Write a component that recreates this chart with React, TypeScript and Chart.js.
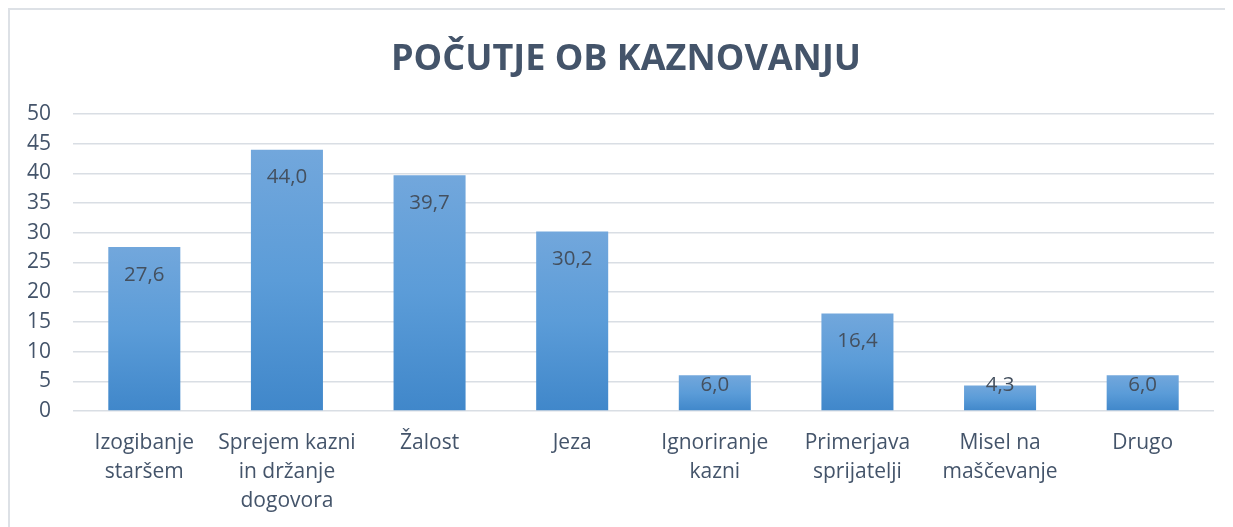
import React, { useEffect, useRef } from "react";
import { Chart, registerables } from "chart.js";

Chart.register(...registerables);

const TITLE = "POČUTJE OB KAZNOVANJU";
const categories: string[][] = [
  ["Izogibanje", "staršem"],
  ["Sprejem kazni", "in držanje", "dogovora"],
  ["Žalost"],
  ["Jeza"],
  ["Ignoriranje", "kazni"],
  ["Primerjava", "sprijatelji"],
  ["Misel na", "maščevanje"],
  ["Drugo"],
];
const values: number[] = [27.6, 44.0, 39.7, 30.2, 6.0, 16.4, 4.3, 6.0];
const yMin = 0;
const yMax = 50;
const yStep = 5;

const TEXT = "#44546A";
const FONT = "'Open Sans', 'Noto Sans', sans-serif";

export default function App() {
  const ref = useRef<HTMLCanvasElement | null>(null);

  useEffect(() => {
    document.documentElement.style.overflow = "hidden";
    document.body.style.overflow = "hidden";
    const canvas = ref.current;
    if (!canvas) return;

    const titlePlugin = {
      id: "customTitle",
      afterDraw(chart: any) {
        const ctx = chart.ctx;
        ctx.save();
        ctx.font = `bold 36px ${FONT}`;
        ctx.fillStyle = TEXT;
        ctx.textAlign = "center";
        ctx.textBaseline = "alphabetic";
        ctx.fillText(TITLE, 616, 60);
        ctx.restore();
      },
    };

    const labelPlugin = {
      id: "barLabels",
      afterDatasetsDraw(chart: any) {
        const ctx = chart.ctx;
        const meta = chart.getDatasetMeta(0);
        ctx.save();
        ctx.font = `20.5px ${FONT}`;
        ctx.fillStyle = "#44505F";
        ctx.textAlign = "center";
        ctx.textBaseline = "middle";
        meta.data.forEach((bar: any, i: number) => {
          const y = Math.min(bar.y + 28, bar.base - 25);
          ctx.fillText(values[i].toFixed(1).replace(".", ","), bar.x, y);
        });
        ctx.restore();
      },
    };

    const chart = new Chart(canvas, {
      type: "bar",
      data: {
        labels: categories,
        datasets: [
          {
            data: values,
            backgroundColor: (c: any) => {
              const ch = c.chart;
              const y = ch.scales && ch.scales.y;
              if (!y || c.parsed == null) return "#5B9BD5";
              const top = y.getPixelForValue(c.parsed.y);
              const base = y.getPixelForValue(0);
              if (!isFinite(top) || !isFinite(base) || base - top < 1) return "#5B9BD5";
              const g = ch.ctx.createLinearGradient(0, top, 0, base);
              g.addColorStop(0, "rgb(114,167,220)");
              g.addColorStop(0.5, "rgb(91,156,216)");
              g.addColorStop(1, "rgb(64,135,202)");
              return g;
            },
            borderWidth: 0,
            barPercentage: 0.505,
            categoryPercentage: 1,
          },
        ],
      },
      options: {
        responsive: false,
        animation: false,
        devicePixelRatio: 1,
        layout: { padding: { top: 104, right: 19, bottom: 0, left: 0 } },
        plugins: {
          legend: { display: false },
          title: { display: false },
          tooltip: { enabled: false },
        },
        scales: {
          x: {
            grid: { display: false, drawTicks: false },
            border: { display: false },
            ticks: {
              color: TEXT,
              font: { family: FONT, size: 21, lineHeight: 1.4 },
              padding: 17,
              maxRotation: 0,
              autoSkip: false,
            },
            afterFit: (s: any) => {
              s.height = 116;
            },
          },
          y: {
            min: yMin,
            max: yMax,
            grid: { color: "#D9DEE4", lineWidth: 1.6, drawTicks: false },
            border: { display: false },
            ticks: {
              stepSize: yStep,
              color: TEXT,
              font: { family: FONT, size: 21 },
              padding: 22,
            },
            afterFit: (s: any) => {
              s.width = 63;
            },
          },
        },
      },
      plugins: [titlePlugin, labelPlugin],
    } as any);

    return () => chart.destroy();
  }, []);

  return (
    <div
      style={{
        width: 1225,
        height: 519,
        boxSizing: "border-box",
        borderTop: "2px solid #DDE1E6",
        borderLeft: "2px solid #DDE1E6",
        position: "relative",
        background: "#fff",
        overflow: "hidden",
      }}
    >
      <canvas ref={ref} width={1223} height={517} style={{ display: "block" }} />
    </div>
  );
}
